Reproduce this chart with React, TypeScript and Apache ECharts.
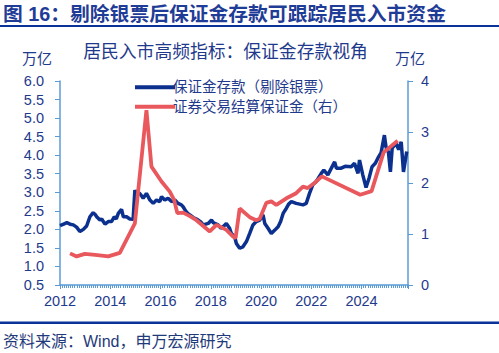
import React, { useEffect, useRef } from "react";
import * as echarts from "echarts";

// Blue: 保证金存款（剔除银票）, 万亿 (left axis); x as decimal year
const blueDates = [
  2012.0, 2012.07, 2012.17, 2012.27, 2012.4, 2012.53, 2012.66, 2012.79, 2012.93, 2013.06,
  2013.19, 2013.32, 2013.4, 2013.46, 2013.59, 2013.66, 2013.79, 2013.92, 2014.05, 2014.16,
  2014.24, 2014.32, 2014.45, 2014.52, 2014.65, 2014.78, 2014.91, 2014.98, 2015.05, 2015.15,
  2015.22, 2015.31, 2015.44, 2015.58, 2015.71, 2015.84, 2015.97, 2016.04, 2016.17, 2016.3,
  2016.44, 2016.57, 2016.7, 2016.83, 2016.9, 2017.0, 2017.1, 2017.17, 2017.3, 2017.43,
  2017.5, 2017.6, 2017.7, 2017.8, 2017.9, 2018.03, 2018.1, 2018.16, 2018.29, 2018.4,
  2018.5, 2018.62, 2018.75, 2018.82, 2018.95, 2019.02, 2019.15, 2019.28, 2019.42, 2019.55,
  2019.68, 2019.81, 2019.95, 2020.08, 2020.15, 2020.28, 2020.41, 2020.55, 2020.68, 2020.78,
  2020.88, 2021.01, 2021.1, 2021.21, 2021.4, 2021.67, 2021.8, 2021.93, 2022.06, 2022.2,
  2022.3, 2022.4, 2022.5, 2022.66, 2022.8, 2022.93, 2023.0, 2023.19, 2023.35, 2023.59,
  2023.72, 2023.86, 2023.92, 2024.05, 2024.18, 2024.3, 2024.42, 2024.55, 2024.65, 2024.78,
  2024.91, 2024.98, 2025.07, 2025.15, 2025.22, 2025.37, 2025.48, 2025.58, 2025.67, 2025.8,
];
const blueValues = [
  2.1, 2.12, 2.15, 2.18, 2.14, 2.12, 2.06, 1.94, 2.0, 2.09,
  2.34, 2.45, 2.4, 2.34, 2.25, 2.28, 2.14, 2.21, 2.21, 2.34,
  2.28, 2.43, 2.54, 2.34, 2.34, 2.28, 2.27, 3.06, 2.93, 2.98,
  2.93, 2.84, 2.97, 2.79, 2.7, 2.79, 2.75, 2.88, 2.79, 2.84,
  2.75, 2.79, 2.7, 2.66, 2.61, 2.5, 2.42, 2.39, 2.32, 2.28,
  2.25, 2.2, 2.12, 2.14, 2.16, 2.25, 2.18, 2.16, 2.12, 2.03,
  2.08, 2.16, 2.03, 1.89, 1.8, 1.62, 1.49, 1.53, 1.67, 1.89,
  2.12, 2.21, 2.25, 2.39, 2.16, 2.03, 1.89, 1.98, 2.07, 2.21,
  2.43, 2.57, 2.68, 2.75, 2.7, 2.66, 2.7, 2.97, 3.2, 3.29,
  3.4, 3.51, 3.6, 3.47, 3.65, 3.82, 3.65, 3.65, 3.7, 3.69,
  3.78, 3.51, 3.87, 3.47, 3.13, 3.38, 3.69, 3.78, 3.92, 4.07,
  4.54, 4.2, 4.09, 3.55, 4.19, 4.32, 4.15, 4.36, 3.55, 4.1,
];

// Red: 证券交易结算保证金（右）, 万亿 (right axis)
const redDates = [
  2012.4, 2012.66, 2012.99, 2013.4, 2013.92, 2014.38, 2014.98, 2015.44, 2015.64, 2016.04,
  2016.37, 2016.54, 2016.67, 2016.9, 2017.17, 2017.43, 2017.96, 2018.23, 2018.62, 2018.89,
  2018.99, 2019.15, 2019.55, 2019.81, 2019.95, 2020.21, 2020.41, 2020.61, 2021.01, 2021.4,
  2021.67, 2021.86, 2022.13, 2022.42, 2023.95, 2024.4, 2024.88, 2025.44,
];
const redValues = [
  0.62, 0.56, 0.61, 0.59, 0.56, 0.63, 1.21, 3.43, 2.32, 2.03,
  1.83, 1.67, 1.41, 1.42, 1.35, 1.27, 1.05, 1.18, 1.08, 0.95,
  0.92, 1.5, 1.33, 1.27, 1.3, 1.61, 1.64, 1.57, 1.7, 1.8,
  1.93, 1.9, 2.0, 2.13, 1.77, 1.84, 2.6, 2.83,
];

const seriesNames = ["保证金存款（剔除银票）", "证券交易结算保证金（右）"];
const leftTicks = { min: 0.5, max: 6.0, interval: 0.5 };
const rightTicks = { min: 0, max: 4, interval: 1 };
const xRange = { min: 2012, max: 2025.85, interval: 2 };

const pageTitle = "图 16：剔除银票后保证金存款可跟踪居民入市资金";
const chartTitle = "居民入市高频指标：保证金存款视角";
const unitLabel = "万亿";
const sourceText = "资料来源：Wind，申万宏源研究";

const FONT = "'Liberation Sans', 'Noto Sans CJK SC', sans-serif";
const TEXT_BLUE = "#1F3A8C";
const AXIS_BLUE = "#5B9BD5";
const DEEP_BLUE = "#0A3399";

export default function App() {
  const ref = useRef<HTMLDivElement>(null);
  useEffect(() => {
    if (!ref.current) return;
    const chart = echarts.init(ref.current, undefined, { renderer: "svg" });
    const blueData = blueDates.map((d, i) => [d, blueValues[i]]);
    const redData = redDates.map((d, i) => [d, redValues[i]]);
    const axisLabelStyle = { color: TEXT_BLUE, fontSize: 14.5, fontFamily: FONT };
    chart.setOption({
      animation: false,
      backgroundColor: "#ffffff",
      grid: { left: 60, right: 91, top: 81, bottom: 68, containLabel: false },
      legend: {
        orient: "vertical",
        left: 130,
        top: 75,
        itemGap: 5,
        itemWidth: 40,
        itemHeight: 4,
        icon: "rect",
        textStyle: { color: TEXT_BLUE, fontSize: 14.5, fontFamily: FONT, padding: [0, 0, 0, -7] },
        data: seriesNames,
      },
      xAxis: {
        type: "value",
        min: xRange.min,
        max: xRange.max,
        interval: xRange.interval,
        splitLine: { show: false },
        axisLine: { lineStyle: { color: AXIS_BLUE, width: 1.5 } },
        axisTick: { show: true, length: 4, lineStyle: { color: AXIS_BLUE } },
        minorTick: { show: true, splitNumber: 24, length: 3, lineStyle: { color: AXIS_BLUE } },
        axisLabel: {
          ...axisLabelStyle,
          margin: 9,
          showMaxLabel: false,
          formatter: (v: number) => {
            const r = Math.round(v);
            return Math.abs(v - r) < 1e-6 && r % 2 === 0 ? String(r) : "";
          },
        },
      },
      yAxis: [
        {
          type: "value",
          position: "left",
          min: leftTicks.min,
          max: leftTicks.max,
          interval: leftTicks.interval,
          splitLine: { show: false },
          axisLine: { show: true, lineStyle: { color: AXIS_BLUE, width: 1.5 } },
          axisTick: { show: true, length: 5, lineStyle: { color: AXIS_BLUE } },
          axisLabel: { ...axisLabelStyle, margin: 16, formatter: (v: number) => v.toFixed(1) },
        },
        {
          type: "value",
          position: "right",
          min: rightTicks.min,
          max: rightTicks.max,
          interval: rightTicks.interval,
          splitLine: { show: false },
          axisLine: { show: true, lineStyle: { color: AXIS_BLUE, width: 1.5 } },
          axisTick: { show: true, length: 5, lineStyle: { color: AXIS_BLUE } },
          axisLabel: { ...axisLabelStyle, margin: 13 },
        },
      ],
      series: [
        {
          name: seriesNames[0],
          type: "line",
          yAxisIndex: 0,
          data: blueData,
          symbol: "none",
          color: "#0B308E",
          lineStyle: { color: "#0B308E", width: 3.5 },
        },
        {
          name: seriesNames[1],
          type: "line",
          yAxisIndex: 1,
          data: redData,
          symbol: "none",
          color: "#E8585C",
          lineStyle: { color: "#E8585C", width: 3.8 },
        },
      ],
      graphic: [
        {
          type: "text",
          left: 3,
          top: 4,
          style: { text: pageTitle, fill: "#1F3C96", font: `bold 19.8px ${FONT}` },
        },
        { type: "rect", shape: { x: 0, y: 25, width: 499, height: 2 }, style: { fill: DEEP_BLUE } },
        {
          type: "text",
          x: 225.5,
          y: 52,
          style: {
            text: chartTitle,
            fill: TEXT_BLUE,
            font: `17.8px ${FONT}`,
            textAlign: "center",
            textVerticalAlign: "middle",
          },
        },
        {
          type: "text",
          x: 37,
          y: 58,
          style: { text: unitLabel, fill: TEXT_BLUE, font: `15px ${FONT}`, textAlign: "center", textVerticalAlign: "middle" },
        },
        {
          type: "text",
          x: 410,
          y: 58,
          style: { text: unitLabel, fill: TEXT_BLUE, font: `15px ${FONT}`, textAlign: "center", textVerticalAlign: "middle" },
        },
        { type: "rect", shape: { x: 0, y: 321.5, width: 499, height: 2.5 }, style: { fill: DEEP_BLUE } },
        {
          type: "text",
          x: 3,
          y: 341,
          style: { text: sourceText, fill: "#1F3A7A", font: `16px ${FONT}`, textVerticalAlign: "middle" },
        },
      ],
    });
    return () => chart.dispose();
  }, []);
  return (
    <div
      ref={ref}
      style={{ position: "fixed", left: 0, top: 0, width: 499, height: 353, background: "#fff" }}
    />
  );
}
